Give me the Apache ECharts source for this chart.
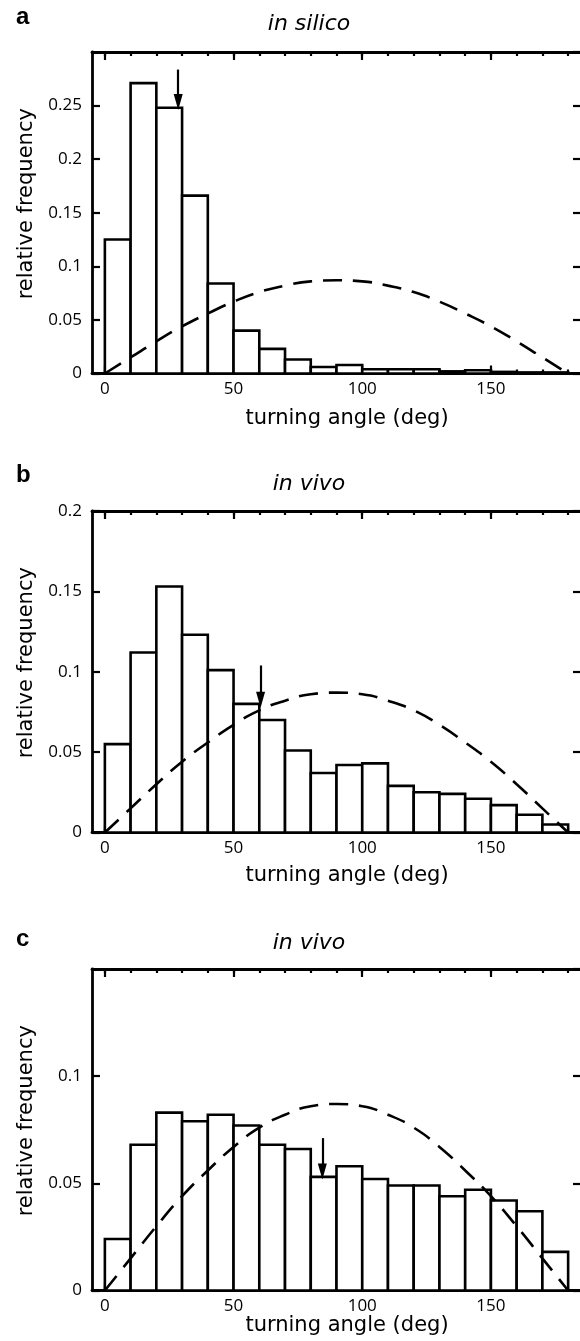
<!DOCTYPE html>
<html>
<head>
<meta charset="utf-8">
<script src="https://cdn.jsdelivr.net/npm/echarts@6/dist/echarts.min.js"></script>
<style>
    html, body { margin: 0; padding: 0; background: #fff; }
    #chart { width: 580px; height: 1341px; }
</style>
</head>
<body>
<div id="chart"></div>
<script>
// histogram bins (deg), 10 deg wide
const binStarts = [0, 10, 20, 30, 40, 50, 60, 70, 80, 90, 100, 110, 120, 130, 140, 150, 160, 170];
const BIN_WIDTH = 10;

const silicoFreq = [0.125, 0.271, 0.248, 0.166, 0.084, 0.040, 0.023, 0.013, 0.006, 0.008, 0.004, 0.004, 0.004, 0.002, 0.003, 0.0015, 0.001, 0.001];
const vivoFreqB = [0.055, 0.112, 0.153, 0.123, 0.101, 0.080, 0.070, 0.051, 0.037, 0.042, 0.043, 0.029, 0.025, 0.024, 0.021, 0.017, 0.011, 0.005];
const vivoFreqC = [0.024, 0.068, 0.083, 0.079, 0.082, 0.077, 0.068, 0.066, 0.053, 0.058, 0.052, 0.049, 0.049, 0.044, 0.047, 0.042, 0.037, 0.018];

// dashed reference curve
const curveAngles = [0, 10, 20, 30, 40, 50, 60, 70, 80, 90, 100, 110, 120, 130, 140, 150, 160, 170, 180];
const curveValues = [0, 0.015, 0.030, 0.044, 0.056, 0.067, 0.076, 0.082, 0.086, 0.087, 0.086, 0.082, 0.076, 0.067, 0.056, 0.044, 0.030, 0.015, 0];

const majorTicks = [0, 50, 100, 150];
const minorTicks = [0, 10, 20, 30, 40, 50, 60, 70, 80, 90, 100, 110, 120, 130, 140, 150, 160, 170, 180];

const panelLetters = ['a', 'b', 'c'];
const panelTitles = ['in silico', 'in vivo', 'in vivo'];
const panelFreqs = [silicoFreq, vivoFreqB, vivoFreqC];
const yMaxes = [0.3, 0.2, 0.15];
const showTopLabel = [false, true, false];

// arrows marking the mean angle
const arrowAngles = [28.5, 60.5, 84.5];
const arrowTops = [0.2836, 0.1039, 0.0711];
const arrowTips = [0.2534, 0.0826, 0.0555];

const GRID_LEFT = 92;
const GRID_WIDTH = 489;
const GRID_HEIGHT = 321.5;
const gridTops = [52, 511, 969];
const nameGaps = [35, 33, 25];
const letterY = [17.5, 475.5, 939];
const titleY = [24.5, 484.5, 943.5];

const LABEL_FONT = 'Open Sans';
const NAME_FONT = 'DejaVu Sans';
const FRAME_W = 2.8;

function renderBin(params, api) {
    const lo = api.value(0);
    const hi = api.value(1);
    const v = api.value(2);
    const p0 = api.coord([lo, v]);
    const p1 = api.coord([hi, 0]);
    return {
        type: 'rect',
        shape: {x: p0[0], y: p0[1], width: p1[0] - p0[0], height: p1[1] - p0[1]},
        style: {fill: '#fff', stroke: '#000', lineWidth: 2.6}
    };
}

const grids = [];
const xAxes = [];
const yAxes = [];
const series = [];
const graphics = [];

for (let i = 0; i < 3; i++) {
    grids.push({
        left: GRID_LEFT, top: gridTops[i], width: GRID_WIDTH, height: GRID_HEIGHT,
        outerBoundsMode: 'none', containLabel: false
    });

    const xBase = {gridIndex: i, type: 'value', min: -5, max: 185, splitLine: {show: false}};
    // bottom, major ticks + labels + name
    xAxes.push(Object.assign({}, xBase, {
        position: 'bottom',
        axisLine: {show: true, onZero: false, lineStyle: {color: '#000', width: FRAME_W}},
        axisTick: {inside: true, length: 8, customValues: majorTicks, lineStyle: {color: '#000', width: 2.2}},
        axisLabel: {customValues: majorTicks, margin: 7, color: '#000', fontFamily: LABEL_FONT, fontSize: 17},
        name: 'turning angle (deg)',
        nameLocation: 'middle',
        nameGap: nameGaps[i],
        nameMoveOverlap: false,
        nameTextStyle: {color: '#000', fontFamily: NAME_FONT, fontSize: 21, padding: [0, 0, 0, 21]}
    }));
    // bottom, minor ticks
    xAxes.push(Object.assign({}, xBase, {
        position: 'bottom',
        axisLine: {show: false, onZero: false},
        axisTick: {inside: true, length: 4, customValues: minorTicks, lineStyle: {color: '#000', width: 2.2}},
        axisLabel: {show: false}
    }));
    // top, major ticks
    xAxes.push(Object.assign({}, xBase, {
        position: 'top',
        axisLine: {show: true, onZero: false, lineStyle: {color: '#000', width: FRAME_W}},
        axisTick: {inside: true, length: 8, customValues: majorTicks, lineStyle: {color: '#000', width: 2.2}},
        axisLabel: {show: false}
    }));
    // top, minor ticks
    xAxes.push(Object.assign({}, xBase, {
        position: 'top',
        axisLine: {show: false, onZero: false},
        axisTick: {inside: true, length: 4, customValues: minorTicks, lineStyle: {color: '#000', width: 2.2}},
        axisLabel: {show: false}
    }));

    const yBase = {gridIndex: i, type: 'value', min: 0, max: yMaxes[i], interval: 0.05, splitLine: {show: false}};
    yAxes.push(Object.assign({}, yBase, {
        position: 'left',
        axisLine: {show: true, onZero: false, lineStyle: {color: '#000', width: FRAME_W}},
        axisTick: {inside: true, length: 8, lineStyle: {color: '#000', width: 2.2}},
        axisLabel: {margin: 10, color: '#000', fontFamily: LABEL_FONT, fontSize: 17, showMaxLabel: showTopLabel[i]},
        name: 'relative frequency',
        nameLocation: 'middle',
        nameGap: 55,
        nameMoveOverlap: false,
        nameTextStyle: {color: '#000', fontFamily: NAME_FONT, fontSize: 21, padding: [0, 0, 0, 18]}
    }));
    yAxes.push(Object.assign({}, yBase, {
        position: 'right',
        axisLine: {show: false, onZero: false},
        axisTick: {inside: true, length: 8, lineStyle: {color: '#000', width: 2.2}},
        axisLabel: {show: false}
    }));

    series.push({
        type: 'custom',
        xAxisIndex: 4 * i,
        yAxisIndex: 2 * i,
        renderItem: renderBin,
        encode: {x: [0, 1], y: 2},
        data: panelFreqs[i].map((v, k) => [binStarts[k], binStarts[k] + BIN_WIDTH, v]),
        silent: true,
        z: 2
    });
    series.push({
        type: 'line',
        xAxisIndex: 4 * i,
        yAxisIndex: 2 * i,
        data: curveAngles.map((a, k) => [a, curveValues[k]]),
        smooth: true,
        symbol: 'none',
        silent: true,
        lineStyle: {color: '#000', width: 2.6, type: [19, 11]},
        z: 3,
        markLine: {
            silent: true,
            symbol: ['none', 'triangle'],
            symbolSize: [9, 16],
            label: {show: false},
            lineStyle: {color: '#000', width: 2.2, type: 'solid'},
            data: [[
                {coord: [arrowAngles[i], arrowTops[i]]},
                {coord: [arrowAngles[i], arrowTips[i]]}
            ]]
        }
    });

    graphics.push({
        type: 'text', x: 16, y: letterY[i],
        style: {
            text: panelLetters[i], fill: '#000',
            font: 'bold 24px "Liberation Sans"',
            textAlign: 'left', align: 'left', textVerticalAlign: 'middle', verticalAlign: 'middle'
        }
    });
    graphics.push({
        type: 'text', x: 309, y: titleY[i],
        style: {
            text: panelTitles[i], fill: '#000',
            font: 'italic 22px "DejaVu Sans"',
            textAlign: 'center', align: 'center', textVerticalAlign: 'middle', verticalAlign: 'middle'
        }
    });
}

const chart = echarts.init(document.getElementById('chart'), null, {renderer: 'canvas'});
chart.setOption({
    animation: false,
    backgroundColor: '#fff',
    grid: grids,
    xAxis: xAxes,
    yAxis: yAxes,
    series: series,
    graphic: graphics
});
</script>
</body>
</html>
